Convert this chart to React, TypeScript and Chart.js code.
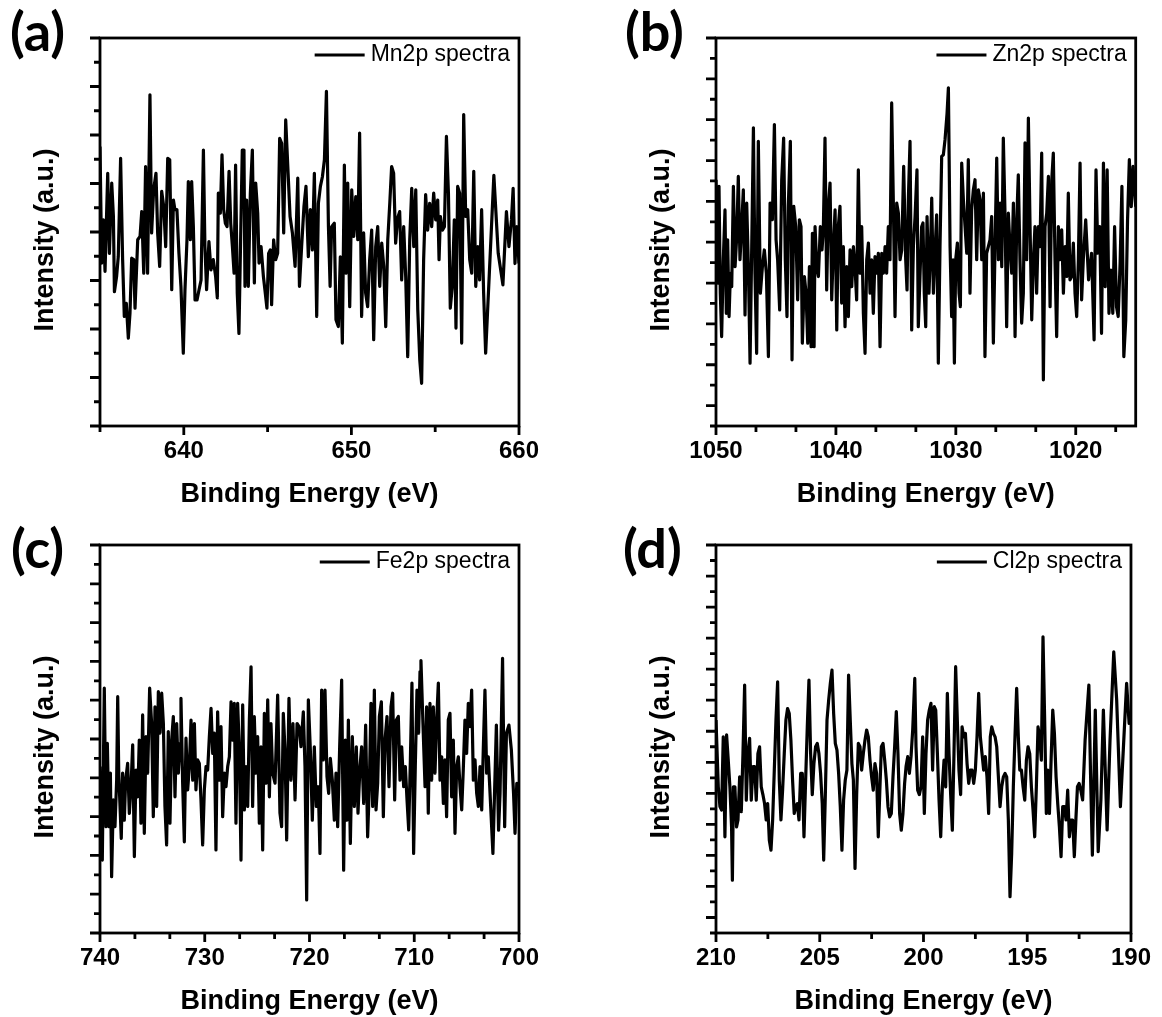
import React, { useEffect, useRef } from 'react';
import { Chart, registerables } from 'chart.js';

Chart.register(...registerables);

// ---------------- data (binding energy eV, intensity a.u.) ----------------
const mnSpectrum: number[][] = [
  [635.00, 5.76], [635.10, 3.36], [635.20, 4.25], [635.30, 3.19], [635.46, 5.21], [635.56, 3.56], [635.70, 5.01], [635.80, 4.32], [635.86, 2.77], [635.99, 3.08],
  [636.09, 3.49], [636.23, 5.52], [636.35, 3.43], [636.45, 2.26], [636.57, 2.53], [636.69, 1.81], [636.79, 2.33], [636.89, 3.46], [637.01, 3.43], [637.09, 2.43],
  [637.25, 3.84], [637.39, 3.91], [637.49, 4.42], [637.61, 3.15], [637.72, 5.35], [637.84, 3.15], [637.98, 6.83], [638.08, 3.98], [638.20, 4.87], [638.34, 5.21],
  [638.44, 3.98], [638.56, 3.29], [638.68, 4.84], [638.80, 4.53], [638.92, 3.70], [639.04, 5.52], [639.16, 5.49], [639.28, 2.81], [639.38, 4.66], [639.47, 4.46],
  [639.59, 4.46], [639.71, 3.56], [639.83, 2.88], [639.97, 1.50], [640.07, 2.81], [640.19, 3.84], [640.27, 5.04], [640.39, 3.84], [640.47, 5.04], [640.57, 4.11],
  [640.67, 2.60], [640.79, 2.60], [640.91, 2.81], [641.03, 3.01], [641.17, 5.69], [641.26, 3.70], [641.36, 2.81], [641.50, 3.80], [641.62, 3.22], [641.76, 3.43],
  [641.90, 3.08], [642.00, 2.64], [642.06, 4.80], [642.18, 4.39], [642.28, 5.59], [642.38, 4.46], [642.48, 4.18], [642.58, 4.11], [642.70, 5.25], [642.80, 4.18],
  [642.90, 3.70], [643.00, 3.15], [643.09, 5.38], [643.19, 2.74], [643.29, 1.91], [643.39, 3.84], [643.49, 5.69], [643.59, 5.69], [643.65, 2.88], [643.75, 4.66],
  [643.85, 2.88], [643.97, 4.80], [644.09, 5.69], [644.21, 2.95], [644.29, 5.01], [644.41, 4.39], [644.49, 3.36], [644.61, 3.70], [644.75, 3.08], [644.84, 2.81],
  [644.96, 2.43], [645.06, 3.56], [645.16, 3.63], [645.24, 2.50], [645.36, 3.84], [645.48, 3.43], [645.60, 3.56], [645.72, 5.93], [645.84, 5.83], [645.96, 3.98],
  [646.08, 6.31], [646.34, 4.32], [646.48, 3.98], [646.64, 3.29], [646.80, 5.11], [646.90, 2.88], [647.03, 3.70], [647.17, 4.53], [647.29, 4.94], [647.43, 3.49],
  [647.55, 4.46], [647.67, 3.63], [647.79, 5.21], [647.93, 2.26], [648.03, 4.59], [648.15, 4.94], [648.27, 5.14], [648.39, 5.49], [648.51, 6.90], [648.63, 4.11],
  [648.73, 2.88], [648.82, 4.11], [648.98, 4.18], [649.08, 2.19], [649.22, 2.05], [649.34, 3.49], [649.46, 1.71], [649.58, 5.38], [649.68, 3.15], [649.78, 5.01],
  [649.90, 2.46], [650.02, 4.87], [650.14, 3.91], [650.26, 4.73], [650.38, 3.84], [650.49, 6.04], [650.61, 2.26], [650.73, 3.98], [650.85, 2.74], [650.97, 2.46],
  [651.09, 3.43], [651.21, 4.04], [651.33, 1.78], [651.45, 3.70], [651.57, 4.11], [651.69, 2.88], [651.81, 3.77], [651.93, 3.29], [652.05, 2.05], [652.17, 3.84],
  [652.29, 4.59], [652.40, 5.35], [652.52, 5.21], [652.64, 3.77], [652.76, 4.29], [652.88, 4.42], [653.00, 3.01], [653.12, 4.11], [653.24, 3.08], [653.36, 1.43],
  [653.48, 3.84], [653.60, 4.90], [653.72, 3.70], [653.84, 4.87], [653.96, 2.40], [654.08, 1.36], [654.19, 0.88], [654.31, 3.43], [654.43, 4.77], [654.55, 4.04],
  [654.67, 4.59], [654.79, 4.11], [654.91, 4.80], [655.03, 4.25], [655.15, 4.66], [655.23, 3.43], [655.31, 4.32], [655.43, 4.04], [655.55, 4.11], [655.67, 5.97],
  [655.79, 4.80], [655.90, 2.43], [656.02, 2.88], [656.14, 4.25], [656.24, 2.02], [656.34, 4.94], [656.46, 4.80], [656.58, 1.71], [656.70, 6.42], [656.82, 4.32],
  [656.94, 4.46], [657.06, 3.43], [657.18, 3.15], [657.30, 5.25], [657.42, 2.88], [657.54, 3.70], [657.65, 3.01], [657.77, 4.46], [657.89, 2.74], [658.01, 1.50],
  [658.23, 3.15], [658.50, 5.17], [658.76, 3.56], [659.04, 2.91], [659.25, 4.42], [659.40, 3.70], [659.55, 4.25], [659.65, 4.90], [659.76, 3.35], [659.87, 4.11],
  [660.00, 3.35],
];

const znSpectrum: number[][] = [
  [1050.00, 6.53], [1049.86, 4.00], [1049.75, 6.37], [1049.64, 3.75], [1049.53, 2.69], [1049.39, 4.57], [1049.25, 5.79], [1049.14, 3.26], [1049.03, 5.06], [1048.91, 3.18],
  [1048.80, 4.24], [1048.69, 3.91], [1048.55, 6.37], [1048.41, 4.40], [1048.27, 5.14], [1048.14, 6.61], [1048.00, 4.57], [1047.86, 5.38], [1047.72, 6.28], [1047.58, 3.22],
  [1047.44, 5.96], [1047.30, 4.40], [1047.16, 2.04], [1047.02, 4.89], [1046.88, 7.80], [1046.75, 4.24], [1046.61, 2.28], [1046.47, 7.47], [1046.30, 3.75], [1046.13, 4.40],
  [1045.97, 4.81], [1045.80, 4.24], [1045.63, 2.20], [1045.49, 5.96], [1045.30, 5.55], [1045.13, 7.88], [1044.99, 5.06], [1044.86, 4.57], [1044.69, 3.34], [1044.52, 6.53],
  [1044.36, 7.55], [1044.22, 4.57], [1044.08, 3.18], [1043.97, 5.88], [1043.80, 7.47], [1043.66, 2.12], [1043.52, 5.88], [1043.35, 5.38], [1043.19, 3.59], [1043.05, 5.55],
  [1042.91, 5.38], [1042.80, 2.53], [1042.63, 4.16], [1042.49, 3.75], [1042.35, 2.53], [1042.21, 4.40], [1042.07, 2.44], [1041.96, 5.22], [1041.82, 2.44], [1041.74, 5.38],
  [1041.60, 4.40], [1041.46, 4.16], [1041.30, 5.38], [1041.16, 4.81], [1041.05, 5.30], [1040.91, 7.55], [1040.77, 3.83], [1040.63, 5.88], [1040.49, 6.45], [1040.35, 3.59],
  [1040.21, 4.89], [1040.07, 5.79], [1039.93, 2.85], [1039.80, 5.38], [1039.66, 5.88], [1039.52, 3.51], [1039.38, 4.89], [1039.24, 2.93], [1039.10, 4.40], [1038.96, 3.18],
  [1038.82, 4.81], [1038.68, 3.91], [1038.54, 4.89], [1038.41, 4.40], [1038.27, 3.59], [1038.13, 6.77], [1037.99, 4.24], [1037.85, 5.38], [1037.71, 3.26], [1037.57, 2.28],
  [1037.43, 4.57], [1037.29, 4.98], [1037.15, 3.75], [1037.02, 4.57], [1036.88, 3.26], [1036.74, 4.65], [1036.60, 4.24], [1036.46, 4.73], [1036.32, 2.44], [1036.18, 4.73],
  [1036.04, 4.24], [1035.90, 4.89], [1035.77, 4.24], [1035.63, 5.38], [1035.49, 4.57], [1035.35, 8.41], [1035.21, 5.96], [1035.07, 3.18], [1034.93, 5.96], [1034.79, 5.71],
  [1034.65, 4.57], [1034.51, 4.81], [1034.35, 6.86], [1034.18, 4.57], [1034.07, 3.83], [1033.96, 6.04], [1033.82, 7.47], [1033.68, 2.85], [1033.54, 4.89], [1033.40, 5.63],
  [1033.24, 6.77], [1033.13, 2.93], [1032.99, 4.16], [1032.85, 5.38], [1032.74, 5.47], [1032.63, 3.75], [1032.51, 2.93], [1032.40, 5.63], [1032.24, 3.75], [1032.12, 4.73],
  [1032.01, 6.08], [1031.87, 3.75], [1031.74, 4.73], [1031.60, 5.67], [1031.46, 2.04], [1031.32, 4.89], [1031.18, 7.10], [1031.04, 7.14], [1030.90, 7.51], [1030.73, 8.16],
  [1030.62, 8.78], [1030.48, 4.89], [1030.35, 3.18], [1030.23, 4.57], [1030.12, 2.04], [1030.01, 4.57], [1029.87, 4.98], [1029.73, 3.75], [1029.62, 3.42], [1029.51, 6.94],
  [1029.37, 6.04], [1029.23, 5.38], [1029.09, 4.73], [1028.96, 7.02], [1028.82, 3.75], [1028.68, 5.79], [1028.54, 6.28], [1028.40, 6.53], [1028.26, 4.57], [1028.12, 6.28],
  [1027.98, 6.04], [1027.84, 4.57], [1027.70, 6.20], [1027.57, 2.20], [1027.43, 4.73], [1027.29, 4.89], [1027.15, 5.06], [1027.01, 5.63], [1026.87, 2.53], [1026.73, 4.89],
  [1026.59, 7.06], [1026.45, 4.57], [1026.31, 5.96], [1026.17, 4.40], [1026.04, 7.55], [1025.90, 5.71], [1025.76, 2.93], [1025.62, 5.71], [1025.48, 4.89], [1025.34, 4.24],
  [1025.20, 5.96], [1025.06, 2.69], [1024.92, 5.55], [1024.79, 6.65], [1024.65, 4.57], [1024.51, 3.02], [1024.37, 3.75], [1024.23, 7.43], [1024.09, 4.57], [1023.95, 8.04],
  [1023.81, 5.38], [1023.67, 3.10], [1023.53, 4.57], [1023.40, 5.38], [1023.26, 3.75], [1023.12, 5.38], [1022.98, 4.89], [1022.84, 7.18], [1022.70, 1.63], [1022.56, 5.38],
  [1022.42, 5.71], [1022.28, 6.61], [1022.14, 3.42], [1022.00, 6.53], [1021.87, 7.18], [1021.73, 4.57], [1021.59, 2.69], [1021.45, 5.38], [1021.31, 4.57], [1021.17, 5.30],
  [1021.03, 3.75], [1020.89, 4.89], [1020.75, 4.16], [1020.62, 6.20], [1020.48, 4.08], [1020.34, 4.16], [1020.20, 4.98], [1020.06, 3.75], [1019.92, 3.18], [1019.78, 4.57],
  [1019.64, 6.94], [1019.51, 3.59], [1019.37, 4.57], [1019.17, 5.55], [1018.93, 4.08], [1018.68, 4.73], [1018.47, 2.61], [1018.31, 6.77], [1018.16, 4.73], [1018.00, 5.38],
  [1017.85, 2.77], [1017.69, 6.94], [1017.54, 3.91], [1017.38, 6.77], [1017.23, 3.26], [1017.07, 4.32], [1016.91, 3.26], [1016.76, 5.38], [1016.60, 3.42], [1016.46, 3.18],
  [1016.30, 4.49], [1016.15, 6.37], [1015.99, 2.20], [1015.83, 3.10], [1015.68, 5.55], [1015.53, 7.02], [1015.37, 5.87], [1015.22, 6.86], [1015.00, 5.87],
];

const feSpectrum: number[][] = [
  [740.00, 4.29], [739.78, 1.88], [739.59, 6.31], [739.43, 2.74], [739.30, 4.89], [739.14, 2.74], [739.01, 4.12], [738.89, 1.45], [738.73, 3.43], [738.57, 2.74],
  [738.41, 3.94], [738.31, 6.09], [738.21, 4.12], [737.97, 2.44], [737.84, 4.12], [737.68, 2.91], [737.55, 3.94], [737.36, 4.37], [737.20, 3.08], [737.04, 3.77],
  [736.88, 4.85], [736.72, 1.97], [736.56, 4.20], [736.40, 3.51], [736.25, 4.97], [736.09, 2.83], [735.93, 5.62], [735.77, 2.57], [735.61, 5.06], [735.45, 4.12],
  [735.26, 6.31], [735.07, 5.40], [734.91, 3.00], [734.75, 5.83], [734.59, 3.26], [734.43, 6.22], [734.27, 5.15], [734.11, 6.18], [733.95, 5.40], [733.80, 3.26],
  [733.64, 2.27], [733.48, 5.19], [733.32, 2.83], [733.16, 4.97], [733.00, 5.58], [732.84, 3.51], [732.68, 5.40], [732.52, 4.12], [732.36, 4.89], [732.27, 6.05],
  [732.11, 3.86], [731.95, 2.35], [731.79, 5.02], [731.63, 3.69], [731.47, 4.29], [731.31, 5.49], [731.15, 3.94], [730.99, 5.40], [730.84, 3.69], [730.68, 4.46],
  [730.52, 4.37], [730.36, 3.43], [730.20, 2.27], [730.04, 3.69], [729.88, 4.29], [729.72, 4.20], [729.56, 5.06], [729.40, 5.79], [729.24, 4.63], [729.09, 5.15],
  [728.93, 2.14], [728.77, 5.70], [728.61, 3.94], [728.45, 5.32], [728.29, 3.00], [728.13, 4.12], [727.97, 3.77], [727.81, 4.29], [727.65, 4.54], [727.49, 5.96],
  [727.33, 4.97], [727.18, 5.92], [727.02, 2.83], [726.86, 5.92], [726.70, 4.72], [726.54, 1.88], [726.38, 5.88], [726.22, 3.17], [726.06, 4.29], [725.90, 3.26],
  [725.74, 5.49], [725.58, 6.86], [725.43, 3.26], [725.27, 5.58], [725.11, 4.12], [724.95, 5.06], [724.79, 2.83], [724.63, 4.80], [724.47, 2.14], [724.31, 5.66],
  [724.15, 3.86], [723.99, 6.01], [723.83, 3.51], [723.68, 5.40], [723.52, 4.12], [723.29, 3.86], [723.04, 6.13], [722.82, 3.09], [722.66, 2.74], [722.50, 5.66],
  [722.34, 4.72], [722.18, 2.40], [721.96, 6.05], [721.77, 3.94], [721.58, 5.40], [721.38, 3.43], [721.19, 5.40], [721.00, 5.32], [720.81, 4.80], [720.59, 5.70],
  [720.43, 4.29], [720.27, 0.85], [720.11, 6.01], [719.92, 4.72], [719.73, 2.91], [719.54, 4.80], [719.35, 3.26], [719.16, 3.77], [719.00, 2.05], [718.84, 6.26],
  [718.68, 4.46], [718.52, 6.26], [718.33, 4.03], [718.17, 3.60], [718.01, 4.50], [717.82, 3.94], [717.63, 2.91], [717.47, 4.12], [717.31, 2.74], [717.12, 4.80],
  [716.93, 6.52], [716.74, 1.62], [716.58, 4.97], [716.42, 2.91], [716.29, 5.49], [716.10, 2.31], [715.91, 5.06], [715.72, 3.26], [715.53, 4.80], [715.37, 3.09],
  [715.18, 4.29], [715.02, 4.80], [714.83, 3.34], [714.64, 5.36], [714.45, 2.48], [714.29, 3.77], [714.13, 5.92], [713.97, 3.26], [713.81, 6.26], [713.65, 3.17],
  [713.49, 3.86], [713.33, 5.58], [713.14, 5.96], [712.95, 3.00], [712.79, 4.97], [712.60, 5.58], [712.41, 3.77], [712.22, 5.83], [712.06, 6.18], [711.87, 3.43],
  [711.71, 5.49], [711.52, 5.58], [711.36, 3.94], [711.20, 4.80], [711.01, 3.77], [710.85, 4.29], [710.69, 3.43], [710.53, 2.66], [710.37, 4.46], [710.22, 6.44],
  [710.06, 2.05], [709.90, 4.29], [709.74, 6.26], [709.58, 5.15], [709.45, 6.74], [709.36, 7.02], [709.17, 5.40], [708.97, 3.77], [708.82, 5.83], [708.66, 3.09],
  [708.50, 5.92], [708.34, 3.94], [708.18, 5.83], [708.02, 4.12], [707.86, 5.49], [707.70, 6.44], [707.54, 3.94], [707.38, 4.54], [707.22, 3.34], [707.07, 4.46],
  [706.91, 3.00], [706.75, 5.49], [706.59, 5.66], [706.43, 3.51], [706.27, 4.97], [706.11, 2.57], [705.95, 4.29], [705.79, 4.54], [705.63, 3.77], [705.47, 3.17],
  [705.32, 4.20], [705.16, 5.49], [705.00, 4.63], [704.84, 5.92], [704.68, 5.32], [704.52, 6.26], [704.36, 3.94], [704.20, 4.46], [704.04, 3.60], [703.88, 3.26],
  [703.72, 4.29], [703.56, 3.17], [703.41, 4.72], [703.25, 6.26], [703.09, 4.12], [702.93, 4.54], [702.49, 2.05], [702.16, 5.36], [701.95, 2.65], [701.81, 3.60],
  [701.57, 7.08], [701.37, 2.74], [701.20, 5.15], [700.96, 5.36], [700.73, 4.72], [700.52, 3.60], [700.38, 2.57], [700.21, 3.86], [700.04, 3.60],
];

const clSpectrum: number[][] = [
  [210.00, 7.36], [209.89, 5.21], [209.81, 4.57], [209.73, 4.46], [209.65, 6.82], [209.57, 3.60], [209.49, 6.88], [209.41, 6.07], [209.33, 5.21], [209.25, 3.92],
  [209.21, 2.20], [209.16, 5.21], [209.09, 5.21], [209.01, 3.92], [208.94, 4.14], [208.86, 5.53], [208.78, 4.41], [208.70, 6.28], [208.62, 8.49], [208.54, 4.78],
  [208.46, 6.28], [208.38, 6.77], [208.30, 4.78], [208.22, 5.86], [208.14, 5.86], [208.06, 4.78], [207.98, 6.28], [207.90, 6.50], [207.82, 5.21], [207.74, 4.96],
  [207.66, 4.67], [207.58, 4.14], [207.51, 4.67], [207.43, 3.49], [207.35, 3.17], [207.27, 4.14], [207.19, 5.75], [207.11, 7.36], [207.03, 8.59], [206.95, 5.43],
  [206.87, 4.14], [206.79, 5.10], [206.71, 6.28], [206.63, 7.36], [206.55, 7.73], [206.47, 7.57], [206.39, 6.71], [206.31, 5.43], [206.23, 4.35], [206.16, 4.57],
  [206.08, 4.67], [206.00, 4.14], [205.92, 5.64], [205.84, 5.64], [205.76, 3.60], [205.68, 5.43], [205.60, 7.14], [205.52, 8.65], [205.44, 6.28], [205.36, 4.96],
  [205.28, 5.96], [205.20, 6.50], [205.12, 6.61], [205.04, 6.28], [204.96, 5.64], [204.88, 4.67], [204.81, 2.85], [204.73, 4.96], [204.65, 7.36], [204.57, 8.00],
  [204.49, 8.54], [204.41, 8.97], [204.33, 7.57], [204.25, 6.61], [204.17, 6.39], [204.09, 5.64], [204.01, 4.57], [203.93, 3.17], [203.85, 4.78], [203.77, 5.43],
  [203.69, 5.75], [203.61, 8.81], [203.53, 7.36], [203.45, 5.96], [203.38, 5.43], [203.30, 2.58], [203.22, 4.96], [203.14, 6.61], [203.06, 6.50], [202.98, 5.75],
  [202.90, 6.28], [202.82, 6.71], [202.74, 7.04], [202.66, 6.82], [202.58, 6.07], [202.50, 5.53], [202.42, 5.10], [202.34, 5.96], [202.26, 5.64], [202.18, 3.60],
  [202.11, 4.96], [202.03, 6.50], [201.95, 6.61], [201.87, 6.07], [201.79, 5.43], [201.71, 4.57], [201.63, 4.24], [201.55, 4.35], [201.47, 5.53], [201.39, 6.50],
  [201.31, 7.63], [201.23, 6.28], [201.15, 4.35], [201.07, 3.81], [200.99, 4.35], [200.91, 5.32], [200.84, 5.86], [200.76, 6.18], [200.68, 5.64], [200.60, 6.18],
  [200.52, 7.04], [200.42, 8.70], [200.36, 6.50], [200.28, 5.10], [200.20, 4.96], [200.12, 5.21], [200.04, 6.82], [199.96, 4.35], [199.88, 6.28], [199.80, 7.36],
  [199.72, 7.68], [199.64, 7.90], [199.56, 5.75], [199.48, 7.79], [199.41, 7.68], [199.33, 6.28], [199.25, 4.78], [199.17, 3.60], [199.09, 5.21], [199.01, 6.07],
  [198.93, 5.21], [198.85, 8.22], [198.77, 6.28], [198.69, 4.96], [198.61, 3.81], [198.53, 6.28], [198.45, 9.08], [198.37, 7.36], [198.29, 5.75], [198.21, 4.96],
  [198.14, 7.14], [198.06, 6.82], [197.98, 6.93], [197.90, 5.96], [197.82, 5.32], [197.74, 5.75], [197.66, 5.75], [197.58, 5.32], [197.50, 5.75], [197.42, 6.82],
  [197.34, 8.22], [197.26, 6.82], [197.18, 6.28], [197.10, 5.75], [197.02, 6.18], [196.94, 5.53], [196.86, 4.35], [196.78, 6.82], [196.71, 7.14], [196.63, 6.93],
  [196.55, 6.82], [196.47, 6.50], [196.39, 5.53], [196.31, 4.57], [196.23, 5.21], [196.15, 5.53], [196.07, 5.64], [195.99, 5.53], [195.91, 4.14], [195.83, 1.67],
  [195.75, 3.06], [195.67, 5.21], [195.59, 6.82], [195.51, 8.38], [195.43, 6.82], [195.36, 5.75], [195.28, 5.75], [195.20, 5.21], [195.12, 4.78], [195.04, 6.07],
  [194.96, 6.50], [194.88, 6.28], [194.80, 5.21], [194.72, 4.46], [194.64, 3.60], [194.56, 5.21], [194.48, 7.14], [194.40, 6.82], [194.32, 6.07], [194.24, 10.04],
  [194.16, 7.36], [194.08, 4.35], [194.01, 5.75], [193.93, 4.35], [193.85, 6.07], [193.77, 7.68], [193.69, 6.93], [193.61, 5.53], [193.53, 4.67], [193.45, 3.92],
  [193.37, 2.96], [193.29, 4.57], [193.21, 4.57], [193.13, 4.14], [193.05, 5.10], [192.97, 3.60], [192.89, 4.14], [192.81, 4.14], [192.73, 2.96], [192.65, 4.24],
  [192.58, 5.21], [192.50, 5.32], [192.42, 5.10], [192.33, 4.79], [192.21, 6.72], [192.03, 8.49], [191.95, 5.64], [191.86, 3.01], [191.72, 7.68], [191.58, 3.12],
  [191.45, 4.79], [191.33, 7.68], [191.15, 3.82], [191.01, 6.72], [190.83, 9.56], [190.69, 8.01], [190.51, 4.57], [190.37, 6.40], [190.21, 8.54], [190.09, 7.25],
  [190.00, 7.36],
];

// ---------------- tick values ----------------
const mnXMajor = [640, 650, 660];
const mnXMinor = [635, 645, 655];
const mnYMajor = [0, 1, 2, 3, 4, 5, 6, 7, 8];
const mnYMinor = [0.5, 1.5, 2.5, 3.5, 4.5, 5.5, 6.5, 7.5];

const znXMajor = [1050, 1040, 1030, 1020];
const znXMinor = [1046.667, 1043.333, 1036.667, 1033.333, 1026.667, 1023.333, 1016.667];
const znYMajor = [1, 2, 3, 4, 5, 6, 7, 8, 9, 10];
const znYMinor = [0.5, 1.5, 2.5, 3.5, 4.5, 5.5, 6.5, 7.5, 8.5, 9.5];

const feXMajor = [740, 730, 720, 710, 700];
const feXMinor = [736.667, 733.333, 726.667, 723.333, 716.667, 713.333, 706.667, 703.333];
const feYMajor = [0, 1, 2, 3, 4, 5, 6, 7, 8, 9, 10];
const feYMinor = [0.5, 1.5, 2.5, 3.5, 4.5, 5.5, 6.5, 7.5, 8.5, 9.5];

const clXMajor = [210, 205, 200, 195, 190];
const clXMinor = [207.5, 202.5, 197.5, 192.5];
const clYMajor = [1, 2, 3, 4, 5, 6, 7, 8, 9, 10, 11, 12, 13];
const clYMinor = [0.5, 1.5, 2.5, 3.5, 4.5, 5.5, 6.5, 7.5, 8.5, 9.5, 10.5, 11.5, 12.5];

const seriesNames = ['Mn2p spectra', 'Zn2p spectra', 'Fe2p spectra', 'Cl2p spectra'];
const panelTags = ['(a)', '(b)', '(c)', '(d)'];
const xTitle = 'Binding Energy (eV)';
const yTitle = 'Intensity (a.u.)';

const SANS = '"Liberation Sans", Arial, Helvetica, sans-serif';

type Panel = {
  tag: string; name: string; data: number[][];
  xMin: number; xMax: number; reverse: boolean; yMin: number; yMax: number;
  xMajor: number[]; xMinor: number[]; yMajor: number[]; yMinor: number[];
  left: number; top: number; width: number; padRight: number; tagLeft: number; tagTop: number;
};

const panels: Panel[] = [
  { tag: panelTags[0], name: seriesNames[0], data: mnSpectrum, xMin: 635, xMax: 660, reverse: false, yMin: 0, yMax: 8,
    xMajor: mnXMajor, xMinor: mnXMinor, yMajor: mnYMajor, yMinor: mnYMinor,
    left: 0, top: 0, width: 581, padRight: 62, tagLeft: 10, tagTop: 4 },
  { tag: panelTags[1], name: seriesNames[1], data: znSpectrum, xMin: 1015, xMax: 1050, reverse: true, yMin: 0.5, yMax: 10,
    xMajor: znXMajor, xMinor: znXMinor, yMajor: znYMajor, yMinor: znYMinor,
    left: 616, top: 0, width: 546, padRight: 26.3, tagLeft: 625, tagTop: 4 },
  { tag: panelTags[2], name: seriesNames[2], data: feSpectrum, xMin: 700, xMax: 740, reverse: true, yMin: 0, yMax: 10,
    xMajor: feXMajor, xMinor: feXMinor, yMajor: feYMajor, yMinor: feYMinor,
    left: 0, top: 507, width: 581, padRight: 62, tagLeft: 11, tagTop: 521 },
  { tag: panelTags[3], name: seriesNames[3], data: clSpectrum, xMin: 190, xMax: 210, reverse: true, yMin: 0.5, yMax: 13,
    xMajor: clXMajor, xMinor: clXMinor, yMajor: clYMajor, yMinor: clYMinor,
    left: 616, top: 507, width: 546, padRight: 26.3, tagLeft: 623, tagTop: 521 },
];

const CANVAS_H = 508;

function makeDecor(p: Panel) {
  return {
    id: 'frameTicksLegend',
    afterDraw(chart: any) {
      const { ctx, chartArea: a, scales } = chart;
      const x = scales.x;
      const y = scales.y;
      ctx.save();
      ctx.strokeStyle = '#000';
      ctx.lineWidth = 2.8;
      ctx.lineCap = 'butt';
      ctx.strokeRect(a.left, a.top, a.right - a.left, a.bottom - a.top);
      ctx.beginPath();
      p.xMajor.forEach((v) => { const px = x.getPixelForValue(v); ctx.moveTo(px, a.bottom); ctx.lineTo(px, a.bottom + 9); });
      p.xMinor.forEach((v) => { const px = x.getPixelForValue(v); ctx.moveTo(px, a.bottom); ctx.lineTo(px, a.bottom + 6); });
      p.yMajor.forEach((v) => { const py = y.getPixelForValue(v); ctx.moveTo(a.left, py); ctx.lineTo(a.left - 10, py); });
      p.yMinor.forEach((v) => { const py = y.getPixelForValue(v); ctx.moveTo(a.left, py); ctx.lineTo(a.left - 6, py); });
      ctx.stroke();

      // y-axis title (rotated), slightly below the plot centre as in the original figure
      ctx.save();
      ctx.fillStyle = '#000';
      ctx.font = `bold 27px ${SANS}`;
      ctx.textAlign = 'center';
      ctx.textBaseline = 'middle';
      ctx.translate(y.left + 45.5, (a.top + a.bottom) / 2 + 8);
      ctx.rotate(-Math.PI / 2);
      ctx.fillText(yTitle, 0, 0);
      ctx.restore();

      // legend inside the plot, top right
      const label = chart.data.datasets[0].label as string;
      ctx.font = `23px ${SANS}`;
      const w = ctx.measureText(label).width;
      const tx = a.right - 9 - w;
      const ty = a.top + 17;
      ctx.beginPath();
      ctx.lineWidth = 3;
      ctx.moveTo(tx - 6 - 50, ty);
      ctx.lineTo(tx - 6, ty);
      ctx.stroke();
      ctx.fillStyle = '#000';
      ctx.textBaseline = 'middle';
      ctx.textAlign = 'left';
      ctx.fillText(label, tx, ty);
      ctx.restore();
    },
  };
}

function SpectrumPanel({ p }: { p: Panel }) {
  const ref = useRef<HTMLCanvasElement | null>(null);
  useEffect(() => {
    if (!ref.current) return;
    const chart = new Chart(ref.current, {
      type: 'line',
      data: {
        datasets: [{
          label: p.name,
          data: p.data.map((d) => ({ x: d[0], y: d[1] })),
          borderColor: '#000',
          borderWidth: 3.2,
          borderJoinStyle: 'round',
          pointRadius: 0,
          pointHoverRadius: 0,
          tension: 0,
          fill: false,
        }],
      },
      options: {
        animation: false,
        responsive: false,
        events: [],
        layout: { padding: { top: 38, right: p.padRight, bottom: 0, left: 0 }, autoPadding: false },
        plugins: { legend: { display: false }, tooltip: { enabled: false }, title: { display: false } },
        scales: {
          x: {
            type: 'linear', min: p.xMin, max: p.xMax, reverse: p.reverse,
            grid: { display: false, drawTicks: false },
            border: { display: false },
            afterBuildTicks: (s: any) => { s.ticks = p.xMajor.map((v) => ({ value: v })); },
            afterFit: (s: any) => { s.height = CANVAS_H - 38 - 388; },
            ticks: {
              autoSkip: false, maxRotation: 0, minRotation: 0, padding: 11, color: '#000',
              font: { family: SANS, size: 24, weight: 'bold' },
              callback: (v: any) => String(v),
            },
            title: {
              display: true, text: xTitle, color: '#000',
              font: { family: SANS, size: 27, weight: 'bold', lineHeight: 1 },
              padding: { top: 0, bottom: 0 },
            },
          },
          y: {
            type: 'linear', min: p.yMin, max: p.yMax,
            grid: { display: false, drawTicks: false },
            border: { display: false },
            afterBuildTicks: (s: any) => { s.ticks = p.yMajor.map((v) => ({ value: v })); },
            afterFit: (s: any) => { s.width = 100; },
            ticks: { display: false },
            title: { display: false },
          },
        },
      } as any,
      plugins: [makeDecor(p)],
    });
    return () => chart.destroy();
  }, [p]);

  return (
    <>
      <canvas
        ref={ref}
        width={p.width}
        height={CANVAS_H}
        style={{ position: 'absolute', left: p.left, top: p.top, width: p.width, height: CANVAS_H }}
      />
      <div
        style={{
          position: 'absolute', left: p.tagLeft, top: p.tagTop,
          fontFamily: 'Lato, "Open Sans", sans-serif', fontWeight: 700, fontSize: 54, lineHeight: 1,
          color: '#000', whiteSpace: 'nowrap',
        }}
      >
        {p.tag}
      </div>
    </>
  );
}

export default function App() {
  return (
    <div style={{ position: 'absolute', left: 0, top: 0, width: 1162, height: 1017, background: '#fff', overflow: 'hidden' }}>
      {panels.map((p) => <SpectrumPanel key={p.tag} p={p} />)}
    </div>
  );
}
